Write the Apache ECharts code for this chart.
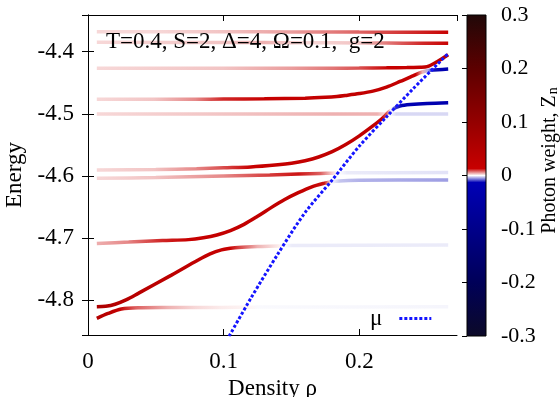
<!DOCTYPE html>
<html><head><meta charset="utf-8">
<script src="https://cdn.jsdelivr.net/npm/echarts@6/dist/echarts.min.js"></script>
<style>html,body{margin:0;padding:0;background:#fff}#c{width:560px;height:397px}</style>
</head><body><div id="c"></div>
<script>
// Each level: [density, energy, photon weight Z_n]
const levelA = [[0.0065,-4.3678,0.002],[0.05,-4.3679,0.002],[0.1,-4.368,0.003],[0.15,-4.3682,0.005],[0.2,-4.3685,0.008],[0.24,-4.3687,0.011],[0.2655,-4.3688,0.015]];
const levelB = [[0.0065,-4.385,0.002],[0.1,-4.3852,0.003],[0.13,-4.3854,0.004],[0.16,-4.3856,0.002],[0.2,-4.386,0.003],[0.22,-4.3862,0.007],[0.245,-4.3864,0.011],[0.2655,-4.3865,0.015]];
const levelC = [[0.0065,-4.4268,0.002],[0.1,-4.4268,0.003],[0.15,-4.4267,0.005],[0.18,-4.4266,0.007],[0.2,-4.4264,0.009],[0.22,-4.426,0.013],[0.235,-4.4256,0.018],[0.245,-4.4252,0.022],[0.25,-4.4242,0.025],[0.2573,-4.4161,0.03],[0.2655,-4.4050,0.04]];
const levelE = [[0.0065,-4.4767,0.002],[0.05,-4.4766,0.003],[0.08,-4.4765,0.006],[0.1,-4.4763,0.011],[0.13,-4.4758,0.016],[0.16,-4.4748,0.02],[0.175,-4.4735,0.022],[0.1835,-4.4722,0.022],[0.19,-4.4705,0.024],[0.2,-4.4675,0.025],[0.21,-4.4635,0.025],[0.22,-4.457,0.025],[0.23,-4.448,0.023],[0.24,-4.4385,0.014],[0.245,-4.4337,0.004],[0.249,-4.431,-0.004],[0.2524,-4.43,-0.012],[0.258,-4.429,-0.02],[0.2655,-4.428,-0.03]];
const levelF = [[0.0065,-4.5003,0.002],[0.1,-4.5003,0.003],[0.18,-4.5003,0.004],[0.212,-4.5003,0.004],[0.217,-4.5003,0.002],[0.221,-4.5003,0.0],[0.226,-4.5003,-0.002],[0.2655,-4.5003,-0.002]];
const levelG = [[0.0065,-4.5905,0.002],[0.05,-4.5897,0.003],[0.08,-4.5885,0.006],[0.1,-4.587,0.009],[0.12,-4.5855,0.013],[0.14,-4.582,0.018],[0.15,-4.5795,0.02],[0.16,-4.5755,0.022],[0.17,-4.5695,0.025],[0.18,-4.561,0.026],[0.19,-4.5495,0.027],[0.2,-4.5355,0.027],[0.21,-4.5195,0.025],[0.2155,-4.51,0.018],[0.219,-4.503,0.008],[0.222,-4.4965,0.0],[0.2253,-4.4915,-0.01],[0.23,-4.4875,-0.015],[0.2376,-4.4852,-0.02],[0.25,-4.4833,-0.025],[0.2655,-4.4821,-0.03]];
const levelH = [[0.0065,-4.6039,0.002],[0.05,-4.6025,0.003],[0.1,-4.6003,0.006],[0.134,-4.5985,0.01],[0.155,-4.597,0.012],[0.171,-4.596,0.008],[0.18,-4.5955,0.002],[0.1835,-4.5952,0.0],[0.19,-4.595,-0.001],[0.2655,-4.5943,-0.0015]];
const levelI = [[0.0065,-4.7086,0.004],[0.03,-4.7065,0.006],[0.055,-4.704,0.011],[0.074,-4.7025,0.015],[0.085,-4.6995,0.017],[0.095,-4.695,0.019],[0.105,-4.688,0.021],[0.115,-4.678,0.023],[0.125,-4.665,0.024],[0.135,-4.651,0.024],[0.145,-4.638,0.024],[0.155,-4.627,0.023],[0.165,-4.6175,0.019],[0.1737,-4.612,0.012],[0.1786,-4.6098,0.0],[0.185,-4.608,-0.003],[0.2,-4.607,-0.004],[0.2655,-4.6066,-0.005]];
const levelJ = [[0.0065,-4.8106,0.06],[0.013,-4.8098,0.055],[0.02,-4.8065,0.05],[0.028,-4.7995,0.045],[0.037,-4.789,0.04],[0.0615,-4.7596,0.032],[0.0812,-4.7354,0.026],[0.09,-4.7255,0.022],[0.0984,-4.719,0.018],[0.105,-4.7165,0.013],[0.1107,-4.715,0.01],[0.125,-4.7136,0.004],[0.14,-4.7129,0.001],[0.144,-4.7125,0.0],[0.15,-4.712,-0.001],[0.2655,-4.7113,-0.001]];
const levelK = [[0.0065,-4.8293,0.05],[0.0148,-4.8213,0.04],[0.0246,-4.8143,0.02],[0.0369,-4.8122,0.008],[0.06,-4.8118,0.004],[0.08,-4.8117,0.002],[0.0984,-4.8116,0.001],[0.12,-4.8112,0.0005],[0.125,-4.8111,-0.0003],[0.2655,-4.8106,-0.0005]];
const levels = [levelA, levelB, levelC, levelE, levelF, levelG, levelH, levelI, levelJ, levelK];
// chemical potential mu
const muCurve = [[0.104,-4.858],[0.12,-4.797],[0.14,-4.7255],[0.16,-4.659],[0.18,-4.6066],[0.2,-4.552],[0.22,-4.505],[0.24,-4.459],[0.265,-4.404]];
const titleText = 'T=0.4, S=2, \u0394=4, \u03A9=0.1,  g=2';

// colour palette of the photon weight
const cmapStops = [[-0.3,[12,10,40]],[-0.2,[0,0,88]],[-0.1,[0,0,138]],[-0.013,[0,0,182]],[0,[255,255,255]],[0.013,[200,0,0]],[0.1,[148,0,0]],[0.2,[92,0,0]],[0.3,[32,8,8]]];
function cmap(v){
  v = Math.max(-0.3, Math.min(0.3, v));
  for (let i=0;i<cmapStops.length-1;i++){
    const a=cmapStops[i], b=cmapStops[i+1];
    if (v>=a[0] && v<=b[0]){
      const t=(v-a[0])/(b[0]-a[0]);
      const c=a[1].map((x,k)=>Math.round(x+(b[1][k]-x)*t));
      return 'rgb('+c.join(',')+')';
    }
  }
  return '#fff';
}
function grad(curve){
  const x0=curve[0][0], x1=curve[curve.length-1][0];
  return new echarts.graphic.LinearGradient(0,0,1,0, curve.map(p=>({offset:(p[0]-x0)/(x1-x0), color:cmap(p[2])})));
}
const barGrad = new echarts.graphic.LinearGradient(0,0,0,1, cmapStops.slice().reverse().map(s=>({offset:(0.3-s[0])/0.6, color:'rgb('+s[1].join(',')+')'})));

const F = 'Liberation Serif';
const txt = {fontFamily:F, fontSize:23, color:'#000'};
const txt22 = {fontFamily:F, fontSize:22, color:'#000'};
const series = levels.map(c=>({
  type:'line', xAxisIndex:0, yAxisIndex:0, data:c.map(p=>[p[0],p[1]]),
  symbol:'none', smooth:0.3, silent:true, z:2,
  lineStyle:{width:3.5, color:grad(c)}
}));
series.push({
  name:'\u03BC', type:'line', xAxisIndex:0, yAxisIndex:0, data:muCurve, symbol:'none', showSymbol:false, smooth:0.3, z:5,
  lineStyle:{width:3, color:'#1414ff', type:[3,2]}, itemStyle:{color:'#1414ff'}
});
series.push({
  type:'line', xAxisIndex:2, yAxisIndex:2, data:[[0.5,0]], symbol:'none', lineStyle:{opacity:0}, silent:true,
  markArea:{silent:true, itemStyle:{color:barGrad, borderColor:'#000', borderWidth:1}, data:[[{xAxis:0,yAxis:-0.3},{xAxis:1,yAxis:0.3}]]}
});

const chart = echarts.init(document.getElementById('c'), null, {renderer:'canvas'});
chart.setOption({
  animation:false,
  backgroundColor:'#fff',
  title:{text:titleText, left:106, top:30, padding:0, textStyle:{fontFamily:F, fontSize:23, color:'#000', fontWeight:'normal'}},
  legend:{data:['\u03BC'], left:370, top:307, padding:0, align:'right', itemWidth:32, itemHeight:14,
    itemStyle:{opacity:0}, lineStyle:{width:3, type:[3,2], color:'#1414ff'}, textStyle:Object.assign({padding:[0,12,0,0]}, txt)},
  grid:[{left:88, top:15, right:103, bottom:62, outerBoundsMode:'none', containLabel:false},
        {left:467, top:15, width:19, bottom:61, outerBoundsMode:'none', containLabel:false}],
  xAxis:[
    {gridIndex:0, type:'value', min:0, max:0.272, interval:0.1, position:'bottom',
     name:'Density \u03C1', nameLocation:'middle', nameGap:37, nameTextStyle:txt,
     axisLine:{lineStyle:{color:'#000', width:1}}, axisTick:{inside:true, length:6, lineStyle:{color:'#000'}},
     axisLabel:Object.assign({margin:15, showMaxLabel:false}, txt), splitLine:{show:false}},
    {gridIndex:0, type:'value', min:0, max:0.272, interval:0.1, position:'top',
     axisLine:{lineStyle:{color:'#000', width:1}}, axisTick:{inside:true, length:6, lineStyle:{color:'#000'}},
     axisLabel:{show:false}, splitLine:{show:false}},
    {gridIndex:1, type:'value', min:0, max:1, show:false}
  ],
  yAxis:[
    {gridIndex:0, type:'value', min:-4.856, max:-4.341, splitNumber:5, position:'left',
     name:'Energy', nameLocation:'middle', nameGap:58, nameRotate:90, nameTextStyle:txt,
     axisLine:{show:true, lineStyle:{color:'#000', width:1}}, axisTick:{show:true, inside:true, length:6, lineStyle:{color:'#000'}},
     axisLabel:Object.assign({margin:14, showMinLabel:false, showMaxLabel:false}, txt), splitLine:{show:false}},
    {gridIndex:0, type:'value', min:-4.856, max:-4.341, splitNumber:5, position:'right',
     axisLine:{show:true, lineStyle:{color:'#000', width:1}}, axisTick:{show:true, inside:true, length:6, lineStyle:{color:'#000'}},
     axisLabel:{show:false}, splitLine:{show:false}},
    {gridIndex:1, type:'value', min:-0.3, max:0.3, interval:0.1, position:'right',
     name:'{a|Photon weight, Z}{b|n}', nameLocation:'middle', nameGap:52, nameRotate:90,
     nameTextStyle:{fontFamily:F, fontSize:20, color:'#000', rich:{
       a:{fontFamily:F, fontSize:20, color:'#000', padding:[0,0,0,30]},
       b:{fontFamily:F, fontSize:14, color:'#000', padding:[8,0,0,1]}}},
     axisLine:{show:false}, axisTick:{show:true, inside:true, length:5, lineStyle:{color:'#000'}},
     axisLabel:Object.assign({margin:15}, txt22), splitLine:{show:false}}
  ],
  series:series
});
</script></body></html>
